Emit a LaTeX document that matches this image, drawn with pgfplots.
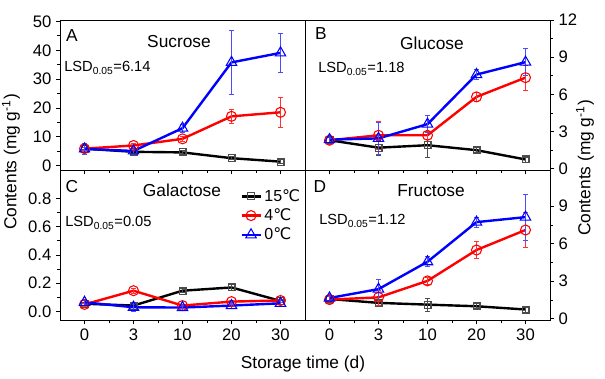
\documentclass[border=0pt]{standalone}
\usepackage{pgfplots}
\pgfplotsset{compat=1.18}
\usepackage{fontspec}
\setmainfont{Liberation Sans}
\newfontfamily\dv{DejaVu Sans}
\newcommand\degC{{\dv\char"2103}}
\newcommand\lsd[1]{LSD\textsubscript{0.05}=#1}
\pgfplotsset{
  panel/.style={scale only axis, width=183.75pt, height=112.5pt, anchor=south west,
    xmin=-0.5, xmax=4.5, xtick={0,...,4}, minor x tick num=1, xtick pos=bottom,
    tick align=outside, major tick length=3pt, minor tick length=2pt,
    tick style={black, line width=0.6pt}, axis line style={line width=0.6pt},
    tick label style={font=\fontsize{12.5}{14}\selectfont},
    /pgf/number format/assume math mode=true, clip=false},
  s15/.style={black, line width=1.8pt, mark=square, mark size=2.6pt,
    mark options={solid, fill=white, draw=black!70, line width=0.8pt},
    error bars/.cd, y dir=both, y explicit,
    error bar style={line width=0.5pt, black!70},
    error mark options={rotate=90, mark size=1.8pt, line width=0.5pt, black!70}},
  s4/.style={red, line width=1.8pt, mark=o, mark size=3.75pt,
    mark options={solid, fill=white, draw=red, line width=0.8pt},
    error bars/.cd, y dir=both, y explicit,
    error bar style={line width=0.5pt, red!80},
    error mark options={rotate=90, mark size=1.8pt, line width=0.5pt, red!80}},
  s0/.style={blue, line width=1.8pt, mark=triangle, mark size=4.5pt,
    mark options={solid, fill=white, draw=blue, line width=0.8pt},
    error bars/.cd, y dir=both, y explicit,
    error bar style={line width=0.5pt, blue!70},
    error mark options={rotate=90, mark size=1.8pt, line width=0.5pt, blue!70}},
}
\begin{document}
\begin{tikzpicture}
\useasboundingbox (0,0) rectangle (453.75pt,283.5pt);
% Panel A
\begin{axis}[panel, at={(45pt,156pt)}, ymin=-1.5, ymax=50.5, ytick={0,10,...,50},
  minor y tick num=1, ytick pos=left, xticklabels={}]
\addplot[s15] coordinates {(0,5.9)+-(0,0.4) (1,4.8)+-(0,0.5) (2,4.6)+-(0,0.6) (3,2.6)+-(0,0.5) (4,1.4)+-(0,0.7)};
\addplot[s4] coordinates {(0,5.9)+-(0,0.5) (1,7.0)+-(0,0.8) (2,9.3)+-(0,1.0) (3,17.1)+-(0,2.5) (4,18.5)+-(0,5.2)};
\addplot[s0] coordinates {(0,5.8)+-(0,1.8) (1,5.1)+-(0,1.0) (2,13.0)+-(0,1.5) (3,35.8)+-(0,11.0) (4,39.1)+-(0,6.9)};
\end{axis}
% Panel B
\begin{axis}[panel, at={(228.75pt,156pt)}, ymin=-0.1, ymax=12, ytick={0,3,...,12},
  minor y tick num=1, ytick pos=right, yticklabel pos=right, xticklabels={}]
\addplot[s15] coordinates {(0,2.3)+-(0,0.2) (1,1.7)+-(0,0.6) (2,1.9)+-(0,1.0) (3,1.5)+-(0,0.2) (4,0.75)+-(0,0.2)};
\addplot[s4] coordinates {(0,2.3)+-(0,0.3) (1,2.7)+-(0,1.1) (2,2.7)+-(0,0.3) (3,5.8)+-(0,0.4) (4,7.35)+-(0,1.0)};
\addplot[s0] coordinates {(0,2.35)+-(0,0.3) (1,2.45)+-(0,1.3) (2,3.6)+-(0,0.7) (3,7.6)+-(0,0.4) (4,8.6)+-(0,1.1)};
\end{axis}
% Panel C
\begin{axis}[panel, at={(45pt,43.5pt)}, ymin=-0.06, ymax=1.0, ytick={0,0.2,...,0.8},
  minor y tick num=1, ytick pos=left, xticklabels={0,3,10,20,30},
  yticklabel style={/pgf/number format/.cd, fixed, fixed zerofill, precision=1},
  legend style={at={(0.735,0.89)}, anchor=north west, draw=none, fill=none,
    font=\fontsize{12}{14}\selectfont, inner sep=0pt, row sep=0pt},
  legend cell align=left,
  legend image code/.code={\draw[mark repeat=2,mark phase=2] plot coordinates {(0cm,0cm)(0.25cm,0cm)(0.5cm,0cm)};}]
\addplot[s15] coordinates {(0,0.055)+-(0,0.01) (1,0.042)+-(0,0.01) (2,0.147)+-(0,0.015) (3,0.17)+-(0,0.02) (4,0.075)+-(0,0.01)};
\addplot[s4] coordinates {(0,0.05)+-(0,0.01) (1,0.147)+-(0,0.02) (2,0.042)+-(0,0.01) (3,0.07)+-(0,0.01) (4,0.078)+-(0,0.01)};
\addplot[s0] coordinates {(0,0.065)+-(0,0.02) (1,0.03)+-(0,0.03) (2,0.028)+-(0,0.02) (3,0.042)+-(0,0.02) (4,0.058)+-(0,0.02)};
\legend{15\degC, 4\degC, 0\degC}
\end{axis}
% Panel D
\begin{axis}[panel, at={(228.75pt,43.5pt)}, ymin=-0.1, ymax=11.9, ytick={0,3,...,9},
  minor y tick num=1, ytick pos=right, yticklabel pos=right, xticklabels={0,3,10,20,30}]
\addplot[s15] coordinates {(0,1.58)+-(0,0.2) (1,1.27)+-(0,0.2) (2,1.13)+-(0,0.5) (3,1.0)+-(0,0.2) (4,0.74)+-(0,0.2)};
\addplot[s4] coordinates {(0,1.53)+-(0,0.3) (1,1.71)+-(0,0.6) (2,3.03)+-(0,0.3) (3,5.5)+-(0,0.7) (4,7.1)+-(0,1.4)};
\addplot[s0] coordinates {(0,1.66)+-(0,0.2) (1,2.37)+-(0,0.8) (2,4.56)+-(0,0.4) (3,7.73)+-(0,0.4) (4,8.13)+-(0,1.85)};
\end{axis}
\begin{scope}[x=0.75pt, y=0.75pt]
\tikzset{t/.style={font=\fontsize{13}{15}\selectfont, inner sep=0pt, anchor=base},
         l/.style={font=\fontsize{11}{13}\selectfont, inner sep=0pt, anchor=base west}}
\node[t] at (72,336) {A};
\node[t] at (179,330) {Sucrose};
\node[l] at (64,306) {\lsd{6.14}};
\node[t] at (321,338) {B};
\node[t] at (432,328) {Glucose};
\node[l] at (318,305) {\lsd{1.18}};
\node[t] at (72,185) {C};
\node[t] at (182,181) {Galactose};
\node[l] at (65,151) {\lsd{0.05}};
\node[t] at (320,185) {D};
\node[t] at (431,181) {Fructose};
\node[l] at (319,153) {\lsd{1.12}};
\node[font=\fontsize{13}{15}\selectfont, inner sep=0pt] at (303,14) {Storage time (d)};
\node[font=\fontsize{13}{15}\selectfont, inner sep=0pt, rotate=90] at (11,216) {Contents (mg g\textsuperscript{-1})};
\node[font=\fontsize{13}{15}\selectfont, inner sep=0pt, rotate=90] at (585,210) {Contents (mg g\textsuperscript{-1})};
\end{scope}
\end{tikzpicture}
\end{document}
